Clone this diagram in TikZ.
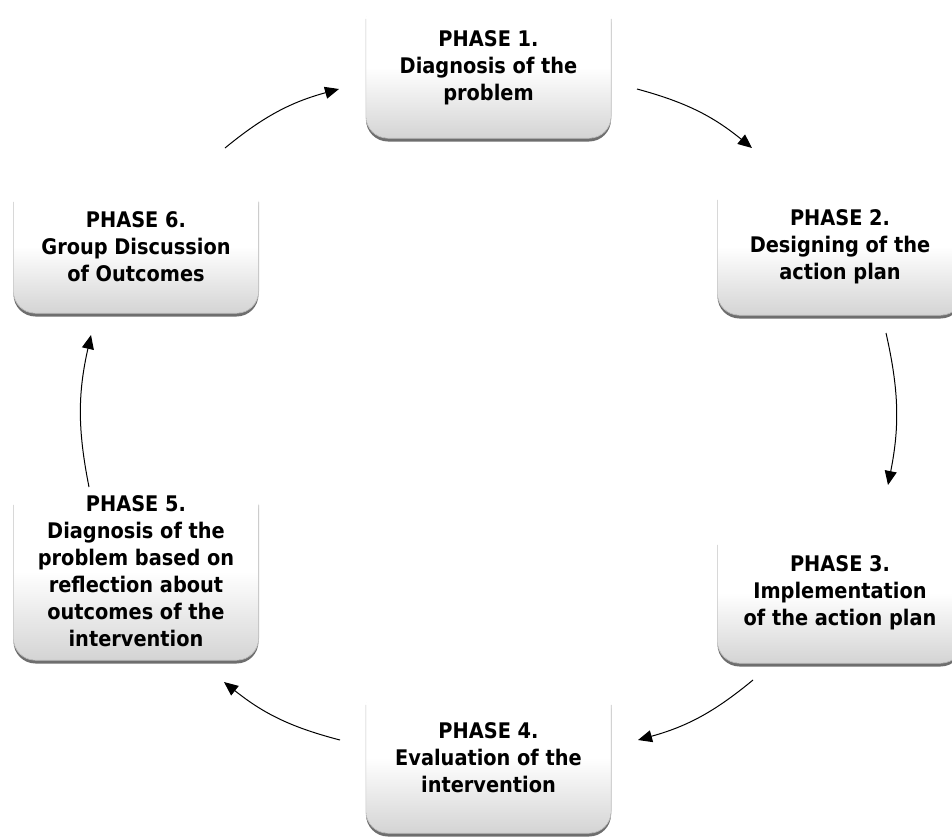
\documentclass[tikz,border=0pt]{standalone}
\usepackage{fontspec}
\IfFontExistsTF{DejaVu Sans Condensed}{\setmainfont{DejaVu Sans Condensed}}{\setmainfont{DejaVu Sans}}
\usetikzlibrary{arrows.meta,calc}
\definecolor{shadowgray}{HTML}{6E6E6E}
\definecolor{boxbottom}{HTML}{D4D4D4}
\definecolor{edgegray}{HTML}{C4C4C4}
\begin{document}
\begin{tikzpicture}[x=1pt,y=-1pt,
  phasebox/.style={rounded corners=22pt, top color=white, bottom color=boxbottom,
    middle color=white, minimum width=245pt, inner sep=0pt, align=center,
    font=\bfseries\fontsize{21.5}{27}\selectfont,
    preaction={fill=shadowgray, transform canvas={yshift=-3.5pt}}},
  sideline/.style={draw=edgegray, line width=0.6pt, rounded corners=22pt},
  cyc/.style={-{Triangle[length=14pt,width=12pt]}, line width=1pt, bend left=12}]
\useasboundingbox (0,0) rectangle (952,836);
\fill[white] (0,0) rectangle (952,836);

\node[phasebox, minimum height=141pt] (b1) at (488.5,67.5) {PHASE 1.\\Diagnosis of the\\problem};
\node[phasebox, minimum height=137pt] (b2) at (840,246.5) {PHASE 2.\\Designing of the\\action plan};
\node[phasebox, minimum height=140pt] (b3) at (840,593) {PHASE 3.\\Implementation\\of the action plan};
\node[phasebox, minimum height=150pt] (b4) at (488.5,758) {PHASE 4.\\Evaluation of the\\intervention};
\node[phasebox, minimum height=177pt] (b5) at (136,571.5) {PHASE 5.\\Diagnosis of the\\problem based on\\reflection about\\outcomes of the\\intervention};
\node[phasebox, minimum height=133pt] (b6) at (136,246.5) {PHASE 6.\\Group Discussion\\of Outcomes};

\foreach \b in {b1,b2,b3,b4,b5,b6}{
  \draw[sideline] ($(\b.north west)+(0,22)$) -- (\b.south west) -- (\b.south east) -- ($(\b.north east)+(0,22)$);
}

\coordinate (a1s) at (225,148); \coordinate (a1e) at (339,89);
\coordinate (a2s) at (637,89);  \coordinate (a2e) at (752,148);
\coordinate (a3s) at (886,333); \coordinate (a3e) at (888,485);
\coordinate (a4s) at (753,680); \coordinate (a4e) at (638,740);
\coordinate (a5s) at (340,740); \coordinate (a5e) at (224,682);
\coordinate (a6s) at (89,487);  \coordinate (a6e) at (91,335);

\draw[cyc] (a1s) to (a1e);
\draw[cyc] (a2s) to (a2e);
\draw[cyc] (a3s) to (a3e);
\draw[cyc] (a4s) to (a4e);
\draw[cyc] (a5s) to (a5e);
\draw[cyc] (a6s) to (a6e);
\end{tikzpicture}
\end{document}
